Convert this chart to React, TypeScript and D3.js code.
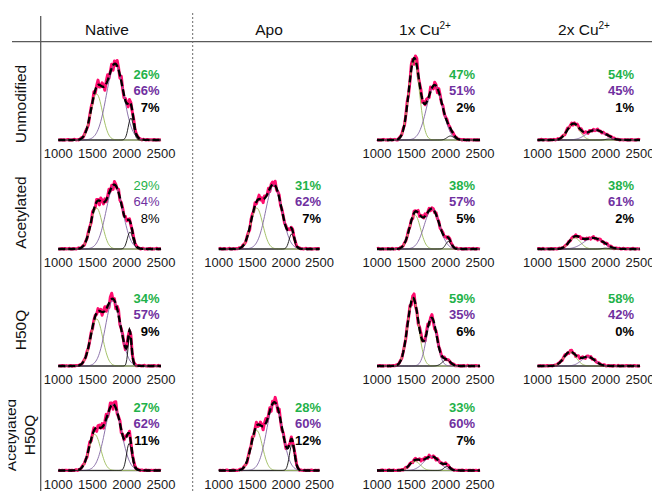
import * as React from "react";
import * as d3 from "d3";

// grid labels
const ROW_LABELS = [["Unmodified"], ["Acetylated"], ["H50Q"], ["Acetylated", "H50Q"]];
const COLUMN_LABELS = ["Native", "Apo", "1x Cu", "2x Cu"];
const COLUMN_SUPERSCRIPTS = ["", "", "2+", "2+"];
const X_TICKS = [1000, 1500, 2000, 2500];

// which cell each panel sits in
const PANEL_ROW = [0, 0, 0, 1, 1, 1, 1, 2, 2, 2, 3, 3, 3];
const PANEL_COL = [0, 2, 3, 0, 1, 2, 3, 0, 2, 3, 0, 1, 2];

// fitted components: centre (m/z), width (sigma), height (a.u.)
const GREEN_CENTER = [1560, 1540, 1525, 1559, 1565, 1553, 1546, 1560, 1525, 1475, 1534, 1565, 1553];
const GREEN_WIDTH = [85, 78, 90, 85, 90, 80, 85, 88, 80, 90, 85, 85, 80];
const GREEN_HEIGHT = [46, 80, 16, 41, 41, 34, 11, 47, 68, 14, 36, 40, 9];
const PURPLE_CENTER = [1830, 1840, 1850, 1820, 1820, 1800, 1815, 1800, 1796, 1740, 1801, 1830, 1796];
const PURPLE_WIDTH = [125, 115, 130, 120, 120, 110, 140, 110, 75, 100, 120, 115, 115];
const PURPLE_HEIGHT = [76, 55, 10, 64, 64, 40, 11, 66, 48, 9, 66, 68, 14];
const BLACK_CENTER = [2060, 2070, 2050, 2048, 2085, 2040, 2000, 2044, 2010, 2000, 2035, 2090, 2015];
const BLACK_WIDTH = [38, 50, 50, 40, 38, 40, 50, 25, 60, 50, 38, 38, 40];
const BLACK_HEIGHT = [22, 4, 1, 17, 15, 7.5, 0.8, 30, 6, 0, 27, 26, 4];

// percentages printed in each panel
const PCT_GREEN = [26, 47, 54, 29, 31, 38, 38, 34, 59, 58, 27, 28, 33];
const PCT_PURPLE = [66, 51, 45, 64, 62, 57, 61, 57, 35, 42, 62, 60, 60];
const PCT_BLACK = [7, 2, 1, 8, 7, 5, 2, 9, 6, 0, 11, 12, 7];
const PCT_BOLD = [true, true, true, false, true, true, true, true, true, true, true, true, true];

// measured trace minus fit, sampled every 20 m/z (relative units)
const RESIDUAL = [
  0.2, -0.3, 0.5, -0.1, 0.4, -0.6, 0.3, 0.8, -0.4, 0.1, -0.7, 0.6, 0.9, -0.2, 0.3, -0.8, 0.5, 1.0, -0.5,
  0.2, 0.7, -0.3, -0.9, 0.4, 0.6, -0.1, 0.8, -0.6, 0.2, 0.9, -0.4, -0.2, 0.7, 0.3, -0.8, 0.5, 1.0, -0.3,
  0.1, 0.6, -0.7, 0.4, -0.2, 0.8, 0.3, -0.5, 0.9, -0.1, -0.6, 0.5, 0.2, -0.9, 0.7, 0.4, -0.3, 0.6, -0.4,
  0.1, 0.8, -0.2, 0.3, -0.7, 0.5, 0.2, -0.1, 0.6, -0.5, 0.3, 0.4, -0.2, 0.7, -0.3, 0.1, 0.5, -0.4, 0.2,
];

const FONT = "'Liberation Sans', Arial, Helvetica, sans-serif";
const COL_X = [
  [58.3, 161],
  [218.8, 319.5],
  [377, 480],
  [537.5, 640],
];
const ROW_BASE = [140, 249, 366, 470.5];
const ROW_CENTER = [104, 212.5, 330, 435];
const PCT_RIGHT = [159.5, 321, 475, 634];
const PCT_TOP = [74.5, 185.5, 298.5, 407.3];
const HEADER_X = [107, 269, 425, 584];

const GREEN_TEXT = "#1fb24a";
const PURPLE_TEXT = "#7030a0";
const GREEN_LINE = "#9bbb59";
const PURPLE_LINE = "#8064a2";
const PINK = "#ff0d6e";

const gauss = (x: number, c: number, s: number, h: number) =>
  h * Math.exp(-((x - c) * (x - c)) / (2 * s * s));

function Panel({ index }: { index: number }) {
  const row = PANEL_ROW[index];
  const col = PANEL_COL[index];
  const base = ROW_BASE[row];

  const x = d3.scaleLinear().domain([1000, 2500]).range(COL_X[col]);
  const y = d3.scaleLinear().domain([0, 100]).range([base, base - 100]);

  const comps = [
    { c: GREEN_CENTER[index], s: GREEN_WIDTH[index], h: GREEN_HEIGHT[index], color: GREEN_LINE },
    { c: PURPLE_CENTER[index], s: PURPLE_WIDTH[index], h: PURPLE_HEIGHT[index], color: PURPLE_LINE },
    { c: BLACK_CENTER[index], s: BLACK_WIDTH[index], h: BLACK_HEIGHT[index], color: "#111" },
  ];

  const grid = d3.range(1000, 2500.1, 10);
  const fit = (m: number) => comps.reduce((sum, k) => sum + gauss(m, k.c, k.s, k.h), 0);

  const line = d3
    .line<[number, number]>()
    .x((d) => x(d[0]))
    .y((d) => y(d[1]));

  const trace: [number, number][] = RESIDUAL.map((_, i) => {
    const m = 1000 + i * 20;
    const r = RESIDUAL[(i + index * 7) % RESIDUAL.length];
    const f = fit(m);
    return [m, Math.max(0, f + r * (0.7 + 0.085 * f))];
  });

  const weight = PCT_BOLD[index] ? "bold" : "normal";
  const pcts = [
    { v: PCT_GREEN[index], color: GREEN_TEXT },
    { v: PCT_PURPLE[index], color: PURPLE_TEXT },
    { v: PCT_BLACK[index], color: "#000" },
  ];

  return (
    <g>
      <line x1={x(1000)} x2={x(2500)} y1={base} y2={base} stroke="#7a7a7a" strokeWidth={1.4} />
      <path d={line(trace) ?? undefined} fill="none" stroke={PINK} strokeWidth={3} strokeLinejoin="round" />
      {comps.map((k, i) => (
        <path
          key={i}
          d={line(grid.map((m) => [m, gauss(m, k.c, k.s, k.h)] as [number, number])) ?? undefined}
          fill="none"
          stroke={k.color}
          strokeWidth={0.9}
        />
      ))}
      <path
        d={line(grid.map((m) => [m, fit(m)] as [number, number])) ?? undefined}
        fill="none"
        stroke="#000"
        strokeWidth={2.3}
        strokeDasharray="7 3"
      />
      {X_TICKS.map((t) => (
        <text
          key={t}
          x={x(t)}
          y={base + 13.5}
          textAnchor="middle"
          dominantBaseline="central"
          fontSize={13}
          fill="#1a1a1a"
        >
          {t}
        </text>
      ))}
      {pcts.map((p, i) => (
        <text
          key={i}
          x={PCT_RIGHT[col]}
          y={PCT_TOP[row] + i * 16.4}
          textAnchor="end"
          dominantBaseline="central"
          fontSize={13}
          fontWeight={weight}
          fill={p.color}
        >
          {p.v}%
        </text>
      ))}
    </g>
  );
}

export default function App() {
  return (
    <svg
      width={652}
      height={491}
      style={{ position: "absolute", left: 0, top: 0, background: "#fff" }}
      fontFamily={FONT}
    >
      <defs>
        <clipPath id="labelClip">
          <rect x={8.5} y={0} width={60} height={491} />
        </clipPath>
      </defs>

      <line x1={12} x2={652} y1={41.7} y2={41.7} stroke="#5a5a5a" strokeWidth={1.3} />
      <line x1={40.7} x2={40.7} y1={16} y2={491} stroke="#5a5a5a" strokeWidth={1.3} />
      <line x1={192.7} x2={192.7} y1={13} y2={491} stroke="#6a6a6a" strokeWidth={1} strokeDasharray="2 2" />

      {COLUMN_LABELS.map((label, i) => (
        <text key={label} x={HEADER_X[i]} y={29.5} textAnchor="middle" dominantBaseline="central" fontSize={15.5} fill="#111">
          {label}
          {COLUMN_SUPERSCRIPTS[i] && (
            <tspan fontSize={10} dy={-5}>
              {COLUMN_SUPERSCRIPTS[i]}
            </tspan>
          )}
        </text>
      ))}

      <g clipPath="url(#labelClip)">
        {ROW_LABELS.map((lines, r) =>
          lines.map((txt, j) => {
            const cx = lines.length === 1 ? 20 : j === 0 ? 10 : 29.5;
            return (
              <text
                key={`${r}-${j}`}
                transform={`translate(${cx},${ROW_CENTER[r]}) rotate(-90)`}
                textAnchor="middle"
                dominantBaseline="central"
                fontSize={15.5}
                fill="#111"
              >
                {txt}
              </text>
            );
          })
        )}
      </g>

      {PANEL_ROW.map((_, i) => (
        <Panel key={i} index={i} />
      ))}
    </svg>
  );
}
